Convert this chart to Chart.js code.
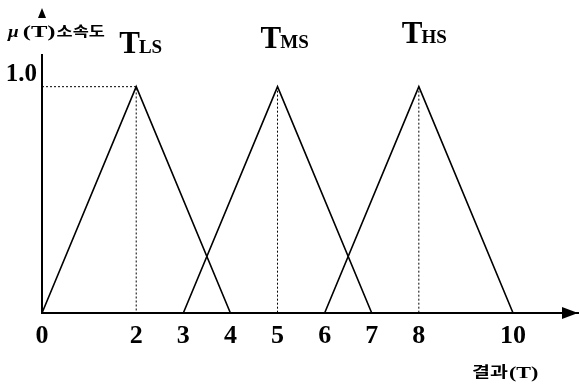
<!DOCTYPE html>
<html>
<head>
<meta charset="utf-8">
<script src="https://cdn.jsdelivr.net/npm/chart.js@4/dist/chart.umd.min.js"></script>
<style>
    html, body { margin: 0; padding: 0; background: #fff; }
    canvas { display: block; }
</style>
</head>
<body>
<canvas id="grafico" width="579" height="387"></canvas>
<script>
// valores
const xTicks = [0, 2, 3, 4, 5, 6, 7, 8, 10];
const yTicks = [1.0];
const setNames = ['LS', 'MS', 'HS'];
const setStart = [0, 3, 6];
const setPeak = [2, 5, 8];
const setEnd = [4, 7, 10];
const peakDegree = 1.0;
const yTitle = ['\u03bc', '(T)', '소속도'];
const xTitle = ['결과', '(T)'];

const SERIF = '"Liberation Serif", "DejaVu Serif", serif';
const KR = '"Noto Sans CJK KR", sans-serif';

const triangulos = setNames.map((nome, i) => ({
    label: 'T' + nome,
    data: [
        { x: setStart[i], y: 0 },
        { x: setPeak[i], y: peakDegree },
        { x: setEnd[i], y: 0 }
    ],
    borderColor: '#000',
    borderWidth: 1.6,
    pointRadius: 0,
    tension: 0,
    fill: false
}));

// linhas pontilhadas ate os picos
const guias = [{ x: 0, y: peakDegree }, { x: setPeak[0], y: peakDegree }, { x: setPeak[0], y: 0 }];
setPeak.slice(1).forEach(p => {
    guias.push({ x: p, y: null });
    guias.push({ x: p, y: peakDegree });
    guias.push({ x: p, y: 0 });
});

const labelLift = [34, 39, 44];

// texto esticado na horizontal, como no original
function textoLargo(ctx, texto, fonte, x, base, sx) {
    ctx.save();
    ctx.font = fonte;
    ctx.translate(x, base);
    ctx.scale(sx, 1);
    ctx.fillText(texto, 0, 0);
    const w = ctx.measureText(texto).width * sx;
    ctx.restore();
    return w;
}

const decoracoes = {
    id: 'decoracoes',
    afterDraw(chart) {
        const ctx = chart.ctx;
        const area = chart.chartArea;
        const xs = chart.scales.x;
        const ys = chart.scales.y;
        ctx.save();
        ctx.fillStyle = '#000';
        ctx.strokeStyle = '#000';
        ctx.textBaseline = 'alphabetic';
        ctx.textAlign = 'left';

        // seta do eixo x
        const y0 = ys.getPixelForValue(0);
        ctx.beginPath();
        ctx.moveTo(area.right - 1, y0);
        ctx.lineTo(area.right - 17, y0 - 6);
        ctx.lineTo(area.right - 17, y0 + 6);
        ctx.closePath();
        ctx.fill();

        // seta do eixo y
        const x0 = xs.getPixelForValue(0);
        ctx.beginPath();
        ctx.moveTo(x0, 8);
        ctx.lineTo(x0 - 4, 18);
        ctx.lineTo(x0 + 4, 18);
        ctx.closePath();
        ctx.fill();

        // titulo do eixo y
        let tx = 8;
        tx += textoLargo(ctx, yTitle[0], 'italic bold 16px ' + SERIF, tx, 37, 1.2) + 4;
        tx += textoLargo(ctx, yTitle[1], 'bold 17px ' + SERIF, tx, 37, 1.45) + 1;
        textoLargo(ctx, yTitle[2], 'bold 14px ' + KR, tx, 36, 1.25);

        // titulo do eixo x
        let bx = 472;
        bx += textoLargo(ctx, xTitle[0], 'bold 15px ' + KR, bx, 377, 1.3) + 1;
        textoLargo(ctx, xTitle[1], 'bold 17px ' + SERIF, bx, 378, 1.3);

        // nomes dos conjuntos
        setNames.forEach((nome, i) => {
            const px = xs.getPixelForValue(setPeak[i]) - 17;
            const base = ys.getPixelForValue(peakDegree) - labelLift[i];
            ctx.font = 'bold 31px ' + SERIF;
            const wT = ctx.measureText('T').width;
            ctx.fillText('T', px, base);
            ctx.font = 'bold 19px ' + SERIF;
            ctx.fillText(nome, px + wT - 1, base);
        });
        ctx.restore();
    }
};

new Chart(document.getElementById('grafico').getContext('2d'), {
    type: 'line',
    data: {
        datasets: [
            ...triangulos,
            {
                label: 'guias',
                data: guias,
                borderColor: '#000',
                borderWidth: 1,
                borderDash: [2, 2],
                pointRadius: 0,
                spanGaps: false
            }
        ]
    },
    options: {
        responsive: false,
        animation: false,
        layout: { padding: { top: 55, right: 0, left: 0, bottom: 0 } },
        plugins: {
            legend: { display: false },
            tooltip: { enabled: false }
        },
        scales: {
            x: {
                type: 'linear',
                min: 0,
                max: 11.4,
                afterBuildTicks: scale => { scale.ticks = xTicks.map(v => ({ value: v })); },
                afterFit: scale => { scale.height = 74; },
                grid: { display: false, drawTicks: false },
                border: { display: true, color: '#000', width: 2 },
                ticks: {
                    color: '#000',
                    padding: 8,
                    maxRotation: 0,
                    autoSkip: false,
                    font: { family: SERIF, size: 26, weight: 'bold' },
                    callback: v => String(v)
                }
            },
            y: {
                type: 'linear',
                min: 0,
                max: 1.14,
                afterBuildTicks: scale => { scale.ticks = yTicks.map(v => ({ value: v })); },
                afterFit: scale => { scale.width = 42; },
                grid: { display: false, drawTicks: false },
                border: { display: true, color: '#000', width: 2 },
                ticks: {
                    color: '#000',
                    padding: 5,
                    labelOffset: -12,
                    font: { family: SERIF, size: 25, weight: 'bold' },
                    callback: v => v.toFixed(1)
                }
            }
        }
    },
    plugins: [decoracoes]
});
</script>
</body>
</html>
